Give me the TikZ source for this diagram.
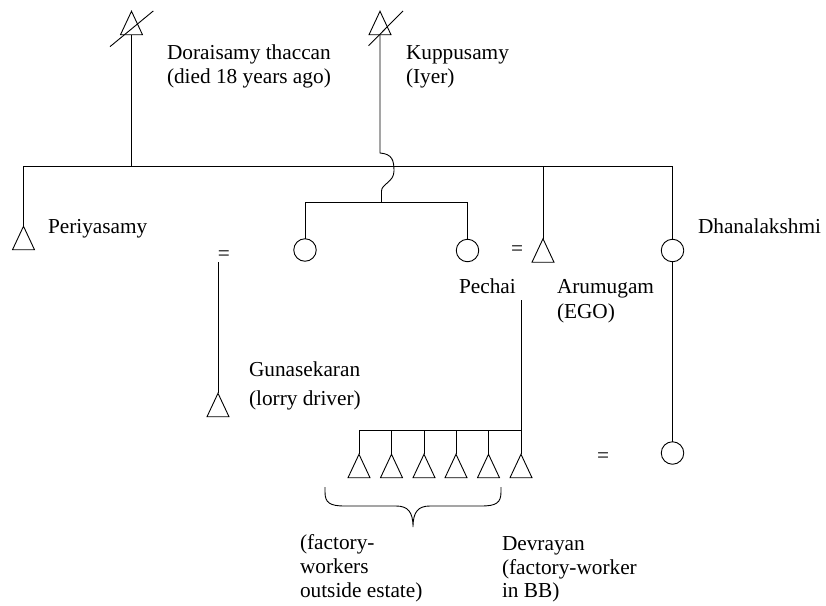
\documentclass[tikz,border=0pt]{standalone}
\usepackage{fontspec}
\setmainfont{Liberation Serif}
\begin{document}
\begin{tikzpicture}[x=1pt,y=-1pt,line width=0.9pt,
  every node/.style={inner sep=0pt,outer sep=0pt},
  male/.style={minimum width=22pt,minimum height=23.5pt},
  female/.style={circle,draw,minimum size=22.5pt},
  lbl/.style={anchor=base west,font=\fontsize{21.3}{24}\selectfont},
  eq/.style={font=\fontsize{21.3}{24}\selectfont}]
\useasboundingbox (0,0) rectangle (826,605);

% males (triangles)
\node[male] (dor) at (131.5,23) {};
\node[male] (kup) at (380,23) {};
\node[male] (peri) at (23.5,238) {};
\node[male] (aru) at (543,250.5) {};
\node[male] (guna) at (218,405) {};
\node[male] (s1) at (359,466) {};
\node[male] (s2) at (391.5,466) {};
\node[male] (s3) at (424,466) {};
\node[male] (s4) at (456,466) {};
\node[male] (s5) at (488.5,466) {};
\node[male] (s6) at (521,466) {};
\foreach \n in {dor,kup,peri,aru,guna,s1,s2,s3,s4,s5,s6}
  \draw (\n.south west) -- (\n.north) -- (\n.south east) -- cycle;

% deceased strikes
\draw ([shift={(-21.5,35.4)}]dor.north) -- ([shift={(21.8,-0.3)}]dor.north);
\draw ([shift={(-11.5,34.5)}]kup.north) -- ([shift={(23,-0.3)}]kup.north);

% females (circles)
\node[female] (c1) at (305,250) {};
\node[female] (pech) at (467.5,250.5) {};
\node[female] (dhan) at (672.5,250.5) {};
\node[female] (dhan2) at (672.5,453) {};

% marriage signs
\node[eq] (eq1) at (224,256) {=};
\node[eq] (eq2) at (517,251) {=};
\node[eq] (eq3) at (603,458) {=};

% sibling bar of Doraisamy's children
\coordinate (barR) at (672.5,166);
\draw (peri.north) |- (barR) -- (dhan.north);
\draw (dor.south) -- (dor.south |- barR);
\draw (aru.north) -- (aru.north |- barR);

% Kuppusamy's children, with hop over the bar
\coordinate (bar2R) at (467.5,202);
\coordinate (hopA) at (380,153);
\coordinate (hopB) at (381.5,191);
\draw (c1.north) |- (bar2R) -- (pech.north);
\draw (kup.south) -- (hopA) .. controls (392,154) and (394,160) .. (394,171)
      .. controls (394,182) and (381.5,184) .. (hopB) -- (hopB |- bar2R);

% Gunasekaran
\coordinate (gtop) at (218,262);
\draw (gtop) -- (guna.north);

% Pechai & Arumugam's sons
\coordinate (ptop) at (521,300);
\coordinate (sbar) at (521,430);
\draw (ptop) -- (s6.north);
\draw (s1.north) |- (sbar);
\foreach \n in {s2,s3,s4,s5}
  \draw (\n.north) -- (\n.north |- sbar);

% Dhanalakshmi line
\draw (dhan.south) -- (dhan2.north);

% brace under the five sons
\draw (325,487) -- (325,492) .. controls (325,503) and (330,506) .. (345,506)
  -- (396,506) .. controls (408,506) and (413,512) .. (413,527)
  .. controls (413,512) and (418,506) .. (430,506)
  -- (481,506) .. controls (496,506) and (501,503) .. (501,492) -- (501,487);

% labels
\node[lbl] (tdor1) at (167,59) {Doraisamy thaccan};
\node[lbl] (tdor2) at (167,83) {(died 18 years ago)};
\node[lbl] (tkup1) at (406,59) {Kuppusamy};
\node[lbl] (tkup2) at (406,83) {(Iyer)};
\node[lbl] (tperi) at (48,233) {Periyasamy};
\node[lbl] (tdhan) at (698,233) {Dhanalakshmi};
\node[lbl] (tpech) at (459,293) {Pechai};
\node[lbl] (taru1) at (557,293) {Arumugam};
\node[lbl] (taru2) at (557,318) {(EGO)};
\node[lbl] (tguna1) at (249,376) {Gunasekaran};
\node[lbl] (tguna2) at (249,405) {(lorry driver)};
\node[lbl] (tfw1) at (300,549) {(factory-};
\node[lbl] (tfw2) at (300,573) {workers};
\node[lbl] (tfw3) at (300,597) {outside estate)};
\node[lbl] (tdev1) at (502,550) {Devrayan};
\node[lbl] (tdev2) at (502,574) {(factory-worker};
\node[lbl] (tdev3) at (502,597) {in BB)};
\end{tikzpicture}
\end{document}
